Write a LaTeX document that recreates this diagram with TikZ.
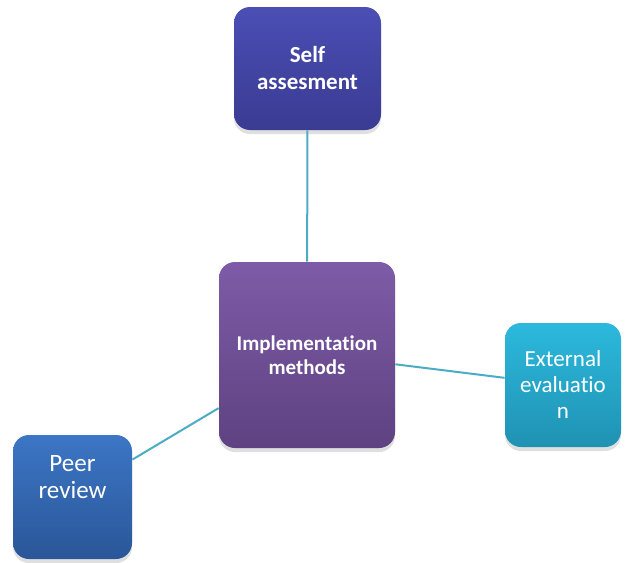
\documentclass[tikz,border=0pt]{standalone}
\usepackage{fontspec}
\setmainfont{Carlito}[Ligatures=NoCommon]
\usetikzlibrary{positioning}
\usetikzlibrary{shadows}

\definecolor{selfTop}{HTML}{4B4EB4}
\definecolor{selfBot}{HTML}{3A3B92}
\definecolor{implTop}{HTML}{7E5BA7}
\definecolor{implBot}{HTML}{5E4281}
\definecolor{extTop}{HTML}{2CB9DD}
\definecolor{extBot}{HTML}{1F92B3}
\definecolor{peerTop}{HTML}{3C76C5}
\definecolor{peerBot}{HTML}{2A5698}
\definecolor{linkBlue}{HTML}{4BACC6}

\begin{document}
\begin{tikzpicture}[x=0.5pt,y=-0.5pt,
	box/.style={rounded corners=8pt, align=center, text=white, inner sep=2pt,
		font=\fontsize{11.5}{14}\selectfont,
		drop shadow={shadow xshift=0pt, shadow yshift=-2pt, opacity=0.25}},
	link/.style={draw=linkBlue, line width=1pt}]
	\useasboundingbox (0,0) rectangle (626,562);
	\node[box, top color=selfTop, bottom color=selfBot,
		minimum width=73.5pt, minimum height=61.5pt,
		font=\fontsize{11.5}{13.5}\selectfont\bfseries] (self) at (307.5,68.5) {Self\\assesment};
	\node[box, top color=implTop, bottom color=implBot,
		minimum width=88pt, minimum height=93pt,
		font=\fontsize{10.5}{12}\selectfont\bfseries] (impl) at (307,355) {Implementation\\methods};
	\node[box, top color=extTop, bottom color=extBot,
		minimum width=58pt, minimum height=62pt,
		font=\fontsize{11.5}{13}\selectfont] (ext) at (563,385) {External\\evaluatio\\n};
	\node[box, top color=peerTop, bottom color=peerBot,
		minimum width=59.5pt, minimum height=62pt, text depth=20pt,
		font=\fontsize{12.5}{13.5}\selectfont] (peer) at (72.5,497) {Peer\\review};
	% links
	\draw[link] (self) -- (impl);
	\draw[link] (impl.-6) -- (ext.173);
	\draw[link] (impl.211) -- (peer.32);
\end{tikzpicture}
\end{document}
